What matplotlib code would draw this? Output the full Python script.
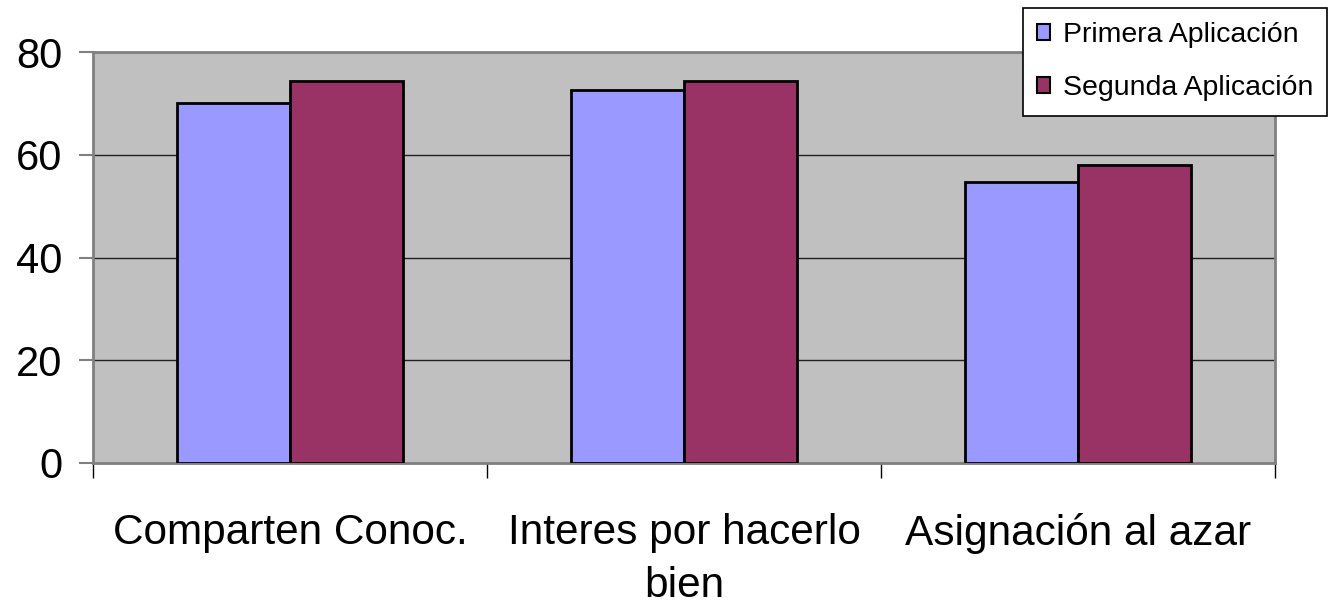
import numpy as np
import matplotlib.pyplot as plt
from matplotlib.ticker import FixedLocator

# data
categories = ["Comparten Conoc.", "Interes por hacerlo\nbien", "Asignación al azar"]
primera = [70.0, 72.7, 54.6]
segunda = [74.4, 74.4, 58.1]
series_names = ["Primera Aplicación", "Segunda Aplicación"]
yticks = [0, 20, 40, 60, 80]

W, H = 1331, 610
plt.rcParams['font.family'] = ['Liberation Sans', 'DejaVu Sans']

fig = plt.figure(figsize=(W / 100, H / 100), dpi=100)
ax = fig.add_axes([93 / W, (H - 463) / H, (1275 - 93) / W, (463 - 52) / H])
ax.set_facecolor('#C0C0C0')

x = np.arange(len(categories))
bw = 0.2857
ax.bar(x - bw / 2, primera, bw, color='#9999FF', edgecolor='black', linewidth=2, zorder=3, label=series_names[0])
ax.bar(x + bw / 2, segunda, bw, color='#993366', edgecolor='black', linewidth=2, zorder=3, label=series_names[1])

ax.set_xlim(-0.5, len(categories) - 0.5)
ax.set_ylim(0, 80)
ax.set_yticks(yticks)
ax.yaxis.grid(True, color='#202020', linewidth=1, zorder=1)
ax.set_axisbelow(True)

ax.set_xticks(x)
ax.set_xticklabels(categories, fontsize=30.5, linespacing=1.42)
ax.tick_params(axis='x', which='major', length=0, pad=36)
ax.xaxis.set_minor_locator(FixedLocator(np.arange(-0.5, len(categories), 1.0)))
ax.tick_params(axis='x', which='minor', length=11, width=1, color='black', direction='out')
ax.tick_params(axis='y', labelsize=30, length=10, width=1.5, color='#808080', pad=12)

for s in ['left', 'bottom', 'top', 'right']:
    ax.spines[s].set_color('#808080')
    ax.spines[s].set_linewidth(2)

leg = fig.legend(loc='upper left', bbox_to_anchor=(1023 / W, 1 - 8 / H), fontsize=20.5,
                 frameon=True, fancybox=False, edgecolor='black', framealpha=1,
                 handlelength=0.45, handleheight=0.45, handletextpad=0.45,
                 borderpad=0.5, labelspacing=0.95, borderaxespad=0)
leg.get_frame().set_linewidth(1.2)
for p in leg.get_patches():
    p.set_linewidth(1.5)

fig.savefig('out.png', dpi=100)
